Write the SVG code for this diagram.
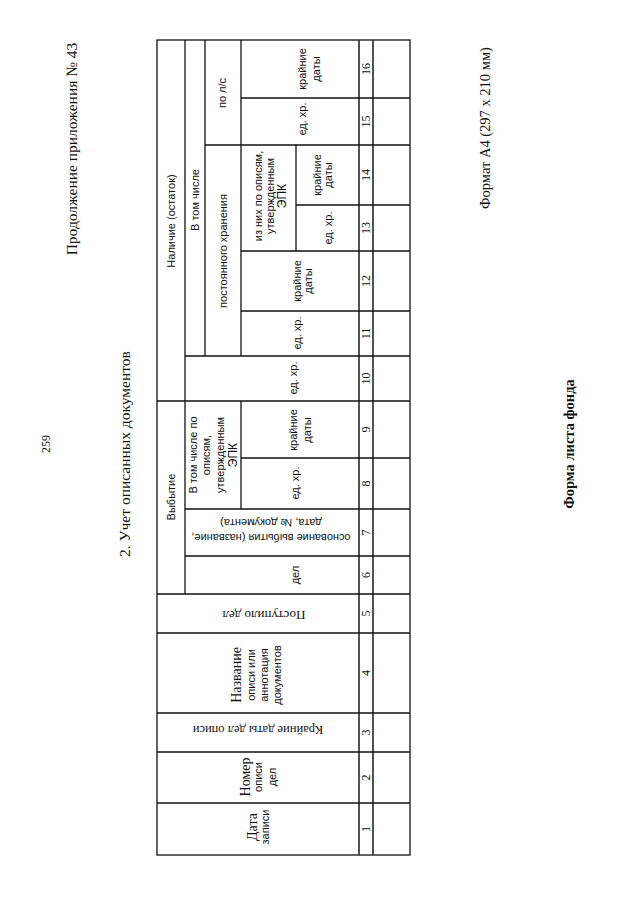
<svg xmlns="http://www.w3.org/2000/svg" width="640" height="905" viewBox="0 0 640 905">
<style>
.ln{stroke:#111;stroke-width:1.3;fill:none}
.lt{stroke:#333;stroke-width:1.7;fill:none}
.s{font-family:"Liberation Sans",Arial,sans-serif;font-size:11px;fill:#111}
.r{font-family:"Liberation Serif","Times New Roman",serif;fill:#111}
.n{font-family:"Liberation Serif","Times New Roman",serif;font-size:12px;fill:#111}
text{text-anchor:middle}
</style>
<rect width="640" height="905" fill="#fff"/>

<g id="page-texts">
  <text class="r" font-size="15.5" transform="translate(76.5,149) rotate(-90)">Продолжение приложения № 43</text>
  <text class="r" font-size="12" transform="translate(49.5,444) rotate(-90)">259</text>
  <text class="r" font-size="15.5" transform="translate(129.5,454) rotate(-90)">2. Учет описанных документов</text>
  <text class="r" font-size="14.5" transform="translate(489.5,128) rotate(-90)">Формат А4 (297 x 210 мм)</text>
  <text class="r" font-size="14.5" font-weight="bold" transform="translate(573.5,444) rotate(-90)">Форма листа фонда</text>
</g>

<g id="connectors">
  <rect class="ln" x="157" y="40" width="253" height="815"/>
  <line class="ln" x1="185" y1="40" x2="185" y2="594"/>
  <line class="ln" x1="205" y1="40" x2="205" y2="356"/>
  <line class="ln" x1="241" y1="40" x2="241" y2="356"/>
  <line class="ln" x1="241" y1="401" x2="241" y2="509"/>
  <line class="ln" x1="296" y1="145" x2="296" y2="251"/>
  <line class="lt" x1="359" y1="40" x2="359" y2="855"/>
  <line class="lt" x1="373" y1="40" x2="373" y2="855"/>
  <line class="ln" x1="241" y1="98" x2="410" y2="98"/>
  <line class="ln" x1="205" y1="145" x2="410" y2="145"/>
  <line class="ln" x1="296" y1="205" x2="410" y2="205"/>
  <line class="ln" x1="241" y1="251" x2="410" y2="251"/>
  <line class="ln" x1="241" y1="311" x2="410" y2="311"/>
  <line class="ln" x1="185" y1="356" x2="410" y2="356"/>
  <line class="ln" x1="157" y1="401" x2="410" y2="401"/>
  <line class="ln" x1="241" y1="458" x2="410" y2="458"/>
  <line class="ln" x1="185" y1="509" x2="410" y2="509"/>
  <line class="ln" x1="185" y1="556" x2="410" y2="556"/>
  <line class="ln" x1="157" y1="594" x2="410" y2="594"/>
  <line class="ln" x1="157" y1="633" x2="410" y2="633"/>
  <line class="ln" x1="157" y1="713" x2="410" y2="713"/>
  <line class="ln" x1="157" y1="752" x2="410" y2="752"/>
  <line class="ln" x1="157" y1="803" x2="410" y2="803"/>
</g>

<g id="nalichie">
  <text class="s" font-size="11.5" transform="translate(171,221) rotate(-90)" y="4">Наличие (остаток)</text>
</g>
<g id="v-tom-chisle">
  <text class="s" transform="translate(195,200) rotate(-90)" y="3.9">В том числе</text>
</g>
<g id="po-ls">
  <text class="s" transform="translate(222,93) rotate(-90)" y="3.9">по л/с</text>
</g>
<g id="c16">
  <text class="s" font-size="11.5" transform="translate(309,69) rotate(-90)"><tspan x="0" y="-3">крайние</tspan><tspan x="0" y="11">даты</tspan></text>
</g>
<g id="c15">
  <text class="s" transform="translate(302,119) rotate(-90)" y="3.9">ед. хр.</text>
</g>
<g id="postoyannogo">
  <text class="s" transform="translate(223,251) rotate(-90)" y="3.9">постоянного хранения</text>
</g>
<g id="iz-nih">
  <text class="s" transform="translate(270,196) rotate(-90)"><tspan x="0" y="-8.1">из них по описям,</tspan><tspan x="0" y="3.9">утвержденным</tspan><tspan x="0" y="16.2" font-size="12">ЭПК</tspan></text>
</g>
<g id="c14">
  <text class="s" transform="translate(322.5,175) rotate(-90)"><tspan x="0" y="-1.85">крайние</tspan><tspan x="0" y="9.65">даты</tspan></text>
</g>
<g id="c13">
  <text class="s" transform="translate(328,228) rotate(-90)" y="3.9">ед. хр.</text>
</g>
<g id="c12">
  <text class="s" transform="translate(302.5,281) rotate(-90)"><tspan x="0" y="-1.85">крайние</tspan><tspan x="0" y="9.65">даты</tspan></text>
</g>
<g id="c11">
  <text class="s" transform="translate(297,333) rotate(-90)" y="3.9">ед. хр.</text>
</g>
<g id="c10">
  <text class="s" transform="translate(293,378) rotate(-90)" y="3.9">ед. хр.</text>
</g>

<g id="vybytie">
  <text class="s" font-size="11.5" transform="translate(171,497) rotate(-90)" y="4">Выбытие</text>
</g>
<g id="vybytie-epk">
  <text class="s" transform="translate(213,455) rotate(-90)"><tspan x="0" y="-16">В том числе по</tspan><tspan x="0" y="-2.7">описям,</tspan><tspan x="0" y="10.6">утвержденным</tspan><tspan x="0" y="24.1" font-size="12">ЭПК</tspan></text>
</g>
<g id="c9">
  <text class="s" transform="translate(300,430) rotate(-90)"><tspan x="0" y="-3.1">крайние</tspan><tspan x="0" y="10.9">даты</tspan></text>
</g>
<g id="c8">
  <text class="s" transform="translate(295,483) rotate(-90)" y="3.9">ед. хр.</text>
</g>
<g id="c7">
  <text class="s" transform="translate(271,530.5) rotate(180)"><tspan x="0" y="-3.6">основание выбытия (название,</tspan><tspan x="0" y="11.4">дата, № документа)</tspan></text>
</g>
<g id="c6">
  <text class="s" transform="translate(295,575) rotate(-90)" y="3.9">дел</text>
</g>

<g id="c5">
  <text class="r" font-size="13" transform="translate(264,615) rotate(180)" y="4.5">Поступило дел</text>
</g>
<g id="c4">
  <text transform="translate(255.5,675) rotate(-90)"><tspan class="r" font-size="14" x="0" y="-14.6">Название</tspan><tspan class="s" font-size="11.5" x="0" y="-1">описи или</tspan><tspan class="s" font-size="11.5" x="0" y="12">аннотация</tspan><tspan class="s" font-size="11.5" x="0" y="25">документов</tspan></text>
</g>
<g id="c3">
  <text class="r" font-size="12.5" transform="translate(258,730) rotate(180)" y="4.4">Крайние даты дел описи</text>
</g>
<g id="c2">
  <text transform="translate(258.5,777) rotate(-90)"><tspan class="r" font-size="14" x="0" y="-8.6">Номер</tspan><tspan class="s" x="0" y="3.9">описи</tspan><tspan class="s" x="0" y="17.4">дел</tspan></text>
</g>
<g id="c1">
  <text transform="translate(258.5,827) rotate(-90)"><tspan class="r" font-size="14" x="0" y="-1.6">Дата</tspan><tspan class="s" x="0" y="10.4">записи</tspan></text>
</g>

<g id="numbers" class="n">
  <text transform="translate(366,69) rotate(-90)" y="4.2">16</text>
  <text transform="translate(366,121.5) rotate(-90)" y="4.2">15</text>
  <text transform="translate(366,175) rotate(-90)" y="4.2">14</text>
  <text transform="translate(366,228) rotate(-90)" y="4.2">13</text>
  <text transform="translate(366,281) rotate(-90)" y="4.2">12</text>
  <text transform="translate(366,333.5) rotate(-90)" y="4.2">11</text>
  <text transform="translate(366,378.5) rotate(-90)" y="4.2">10</text>
  <text transform="translate(366,429.5) rotate(-90)" y="4.2">9</text>
  <text transform="translate(366,483.5) rotate(-90)" y="4.2">8</text>
  <text transform="translate(366,532.5) rotate(-90)" y="4.2">7</text>
  <text transform="translate(366,575) rotate(-90)" y="4.2">6</text>
  <text transform="translate(366,613.5) rotate(-90)" y="4.2">5</text>
  <text transform="translate(366,673) rotate(-90)" y="4.2">4</text>
  <text transform="translate(366,732.5) rotate(-90)" y="4.2">3</text>
  <text transform="translate(366,777.5) rotate(-90)" y="4.2">2</text>
  <text transform="translate(366,829) rotate(-90)" y="4.2">1</text>
</g>
</svg>
